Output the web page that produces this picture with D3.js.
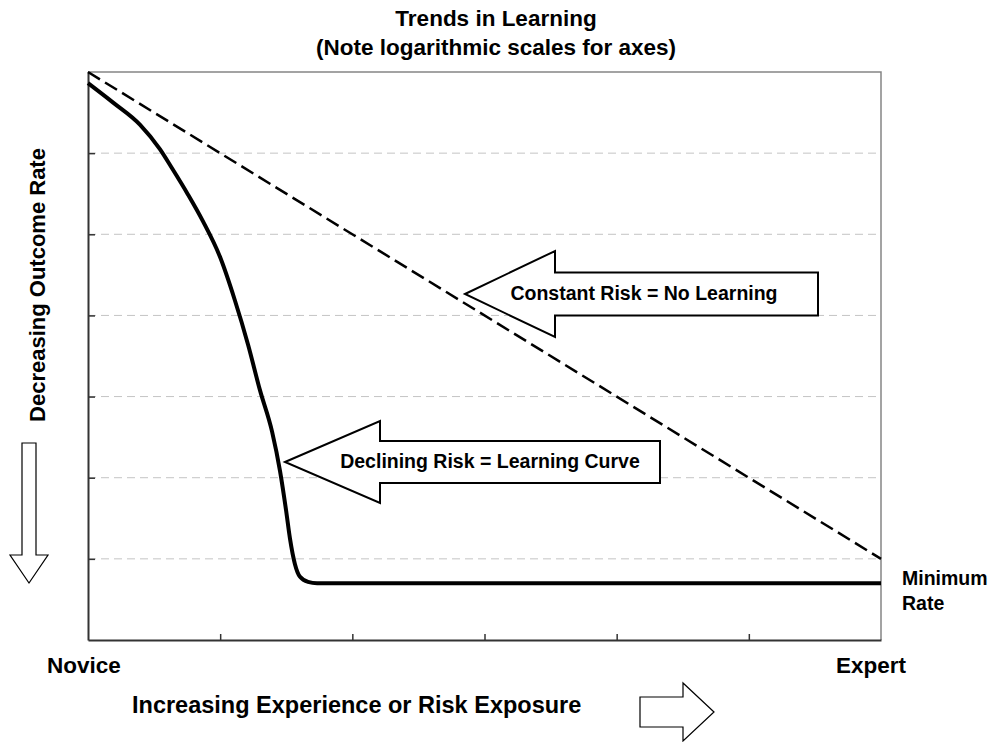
<!DOCTYPE html>
<html>
<head>
<meta charset="utf-8">
<script src="https://cdn.jsdelivr.net/npm/d3@7"></script>
<style>
  body { margin: 0; background: #fff; }
  text { font-family: "Liberation Sans", Arial, sans-serif; font-weight: bold; fill: #000; }
</style>
</head>
<body>
<div id="chart"></div>
<script>
// Learning curve (declining risk)
const exposure = [1, 1.55, 2.47, 3.5, 4.3, 5.7, 7.4, 10, 12.9, 16.3, 20, 24.7, 28.4, 31.5, 33.7, 36.8, 40.2, 46.2, 54.1, 1e6];
const learningRate = [0.73, 0.42, 0.225, 0.112, 0.066, 0.031, 0.0145, 0.0052, 0.00155, 0.00043, 0.00012, 3.7e-5, 1.2e-5, 4.0e-6, 1.8e-6, 8.6e-7, 6.0e-7, 5.2e-7, 5.0e-7, 5.0e-7];

// Constant risk = no learning
const constantExposure = [1, 1e6];
const constantRate = [1, 1e-6];

const xTicks = [10, 100, 1e3, 1e4, 1e5];
const yTicks = [1e-1, 1e-2, 1e-3, 1e-4, 1e-5, 1e-6];

const width = 990, height = 742;
const margin = {top: 72, right: 109, bottom: 102, left: 88};
const w = width - margin.left - margin.right,
      h = height - margin.top - margin.bottom;

const svg = d3.select("#chart")
  .append("svg")
    .attr("width", width)
    .attr("height", height);

const x = d3.scaleLog().domain([1, 1e6]).range([0, w]);
const y = d3.scaleLog().domain([1e-7, 1]).range([h, 0]);

const chart = svg.append("g")
    .attr("transform", "translate(" + margin.left + "," + margin.top + ")");

// gridlines
chart.selectAll(".grid")
  .data(yTicks)
  .enter().append("line")
    .attr("class", "grid")
    .attr("x1", 0).attr("x2", w)
    .attr("y1", d => y(d)).attr("y2", d => y(d))
    .attr("stroke", "#c4c4c4")
    .attr("stroke-width", 1)
    .attr("stroke-dasharray", "8,5");

// frame: top and right in grey
chart.append("path")
    .attr("d", "M0,0H" + w + "V" + h)
    .attr("fill", "none")
    .attr("stroke", "#858585")
    .attr("stroke-width", 1.5);

// axes with inward ticks, no labels
const xAxis = chart.append("g")
    .attr("transform", "translate(0," + h + ")")
    .call(d3.axisBottom(x).tickValues(xTicks).tickSizeInner(-6).tickSizeOuter(0).tickFormat(""));
const yAxis = chart.append("g")
    .call(d3.axisLeft(y).tickValues(yTicks).tickSizeInner(-7).tickSizeOuter(0).tickFormat(""));
[xAxis, yAxis].forEach(a => {
  a.select(".domain").attr("stroke", "#333").attr("stroke-width", 2);
  a.selectAll(".tick line").attr("stroke", "#333").attr("stroke-width", 1.5);
});

const line = d3.line()
    .x(d => x(d[0]))
    .y(d => y(d[1]));

// constant risk (dashed)
chart.append("path")
    .datum(d3.zip(constantExposure, constantRate))
    .attr("d", line)
    .attr("fill", "none")
    .attr("stroke", "#000")
    .attr("stroke-width", 2.5)
    .attr("stroke-dasharray", "14,6");

// learning curve
chart.append("path")
    .datum(d3.zip(exposure, learningRate))
    .attr("d", line.curve(d3.curveMonotoneX))
    .attr("fill", "none")
    .attr("stroke", "#000")
    .attr("stroke-width", 4)
    .attr("stroke-linejoin", "round");

// block arrow helper, tip at (tx,ty), pointing left
function leftArrow(tx, ty, headLen, headHalf, shaftHalf, endX) {
  const hx = tx + headLen;
  return "M" + tx + "," + ty +
    "L" + hx + "," + (ty - headHalf) +
    "L" + hx + "," + (ty - shaftHalf) +
    "L" + endX + "," + (ty - shaftHalf) +
    "L" + endX + "," + (ty + shaftHalf) +
    "L" + hx + "," + (ty + shaftHalf) +
    "L" + hx + "," + (ty + headHalf) + "Z";
}

// callouts
const callouts = [
  {tip: [465, 294], headLen: 90, headHalf: 43, shaftHalf: 21.5, end: 818, text: "Constant Risk = No Learning", tx: 644, ty: 300},
  {tip: [285, 462], headLen: 95, headHalf: 41, shaftHalf: 21, end: 660, text: "Declining Risk = Learning Curve", tx: 490, ty: 468}
];
callouts.forEach(c => {
  svg.append("path")
    .attr("d", leftArrow(c.tip[0], c.tip[1], c.headLen, c.headHalf, c.shaftHalf, c.end))
    .attr("fill", "#fff")
    .attr("stroke", "#000")
    .attr("stroke-width", 2);
  svg.append("text")
    .attr("x", c.tx).attr("y", c.ty)
    .attr("text-anchor", "middle")
    .style("font-size", "19.5px")
    .text(c.text);
});

// axis direction arrows
svg.append("path")
    .attr("d", leftArrow(714, 712, -31, 29, 15, 640))
    .attr("fill", "#fff").attr("stroke", "#000").attr("stroke-width", 1.2);
svg.append("path")
    .attr("d", "M29,583L10,555L22,555L22,443L36,443L36,555L48,555Z")
    .attr("fill", "#fff").attr("stroke", "#000").attr("stroke-width", 1.2);

// titles and labels
const title = svg.append("text")
    .attr("x", 496).attr("y", 26)
    .attr("text-anchor", "middle")
    .style("font-size", "22.5px");
title.append("tspan").attr("x", 496).text("Trends in Learning");
title.append("tspan").attr("x", 496).attr("dy", 29).text("(Note logarithmic scales for axes)");

svg.append("text").attr("x", 47).attr("y", 673).style("font-size", "22.5px").text("Novice");
svg.append("text").attr("x", 836).attr("y", 673).style("font-size", "22.5px").text("Expert");
svg.append("text").attr("x", 132).attr("y", 713).style("font-size", "23.5px")
    .text("Increasing Experience or Risk Exposure");

svg.append("text")
    .attr("transform", "translate(45,285) rotate(-90)")
    .attr("text-anchor", "middle")
    .style("font-size", "22px")
    .text("Decreasing Outcome Rate");

const minLabel = svg.append("text").attr("x", 902).attr("y", 585).style("font-size", "19.5px");
minLabel.append("tspan").attr("x", 902).text("Minimum");
minLabel.append("tspan").attr("x", 902).attr("dy", 25).text("Rate");
</script>
</body>
</html>
